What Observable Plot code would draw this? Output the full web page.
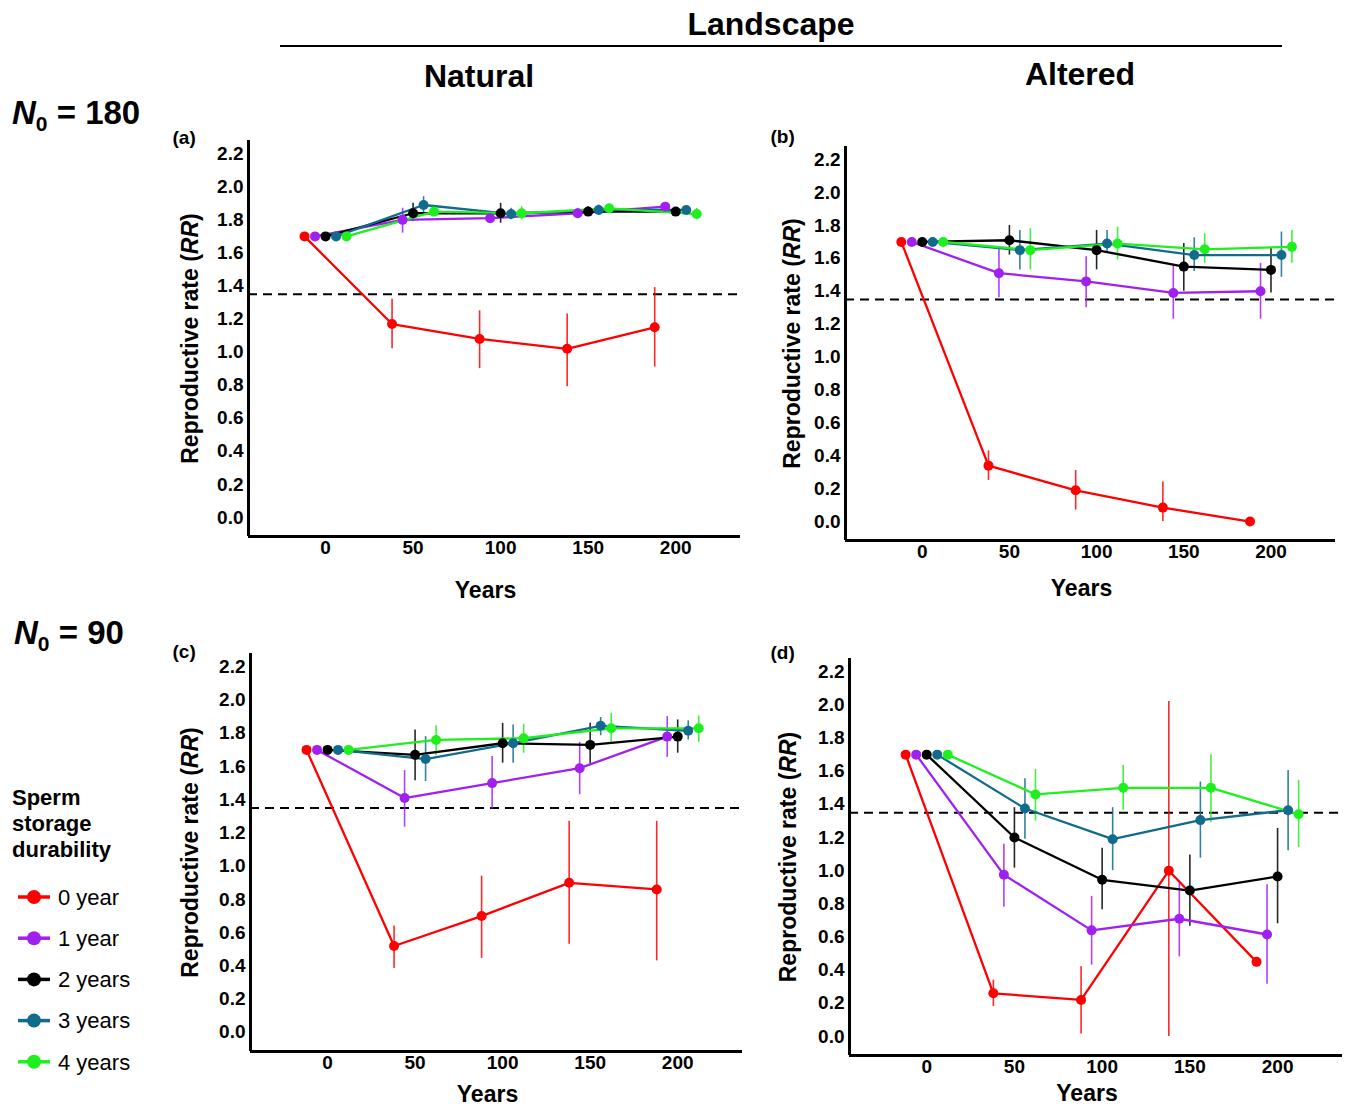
<!DOCTYPE html>
<html><head><meta charset="utf-8">
<script src="https://cdn.jsdelivr.net/npm/d3@7"></script>
<script src="https://cdn.jsdelivr.net/npm/@observablehq/plot@0.6"></script>
<style>
html,body{margin:0;padding:0;background:#fff;overflow:hidden}
#root{position:relative;width:1346px;height:1107px;overflow:hidden;font-family:"Liberation Sans",Arial,sans-serif;color:#000}
.abs{position:absolute;white-space:nowrap}
.ctr{transform:translate(-50%,-50%)}
.hdr{font-weight:bold;font-size:32px;line-height:1}
</style></head><body><div id="root"></div>
<script>
// ---------------- data ----------------
const years = [0, 50, 100, 150, 200];
const durabilities = ["0 year", "1 year", "2 years", "3 years", "4 years"];
const yearTicks = [0, 50, 100, 150, 200];
const rrTicks = [0, 0.2, 0.4, 0.6, 0.8, 1.0, 1.2, 1.4, 1.6, 1.8, 2.0, 2.2];
const threshold = 1.35;
const panelLetters = ["(a)", "(b)", "(c)", "(d)"];
const landscapes = ["Natural", "Altered"];
const startSizes = ["180", "90"];

// (a) N0 = 180, Natural
const meanA = [
  [1.70, 1.17, 1.08, 1.02, 1.15],
  [1.70, 1.80, 1.81, 1.84, 1.88],
  [1.70, 1.84, 1.84, 1.85, 1.85],
  [1.70, 1.89, 1.835, 1.86, 1.86],
  [1.70, 1.85, 1.84, 1.87, 1.835]
];
const lowA = [
  [null, 1.02, 0.90, 0.79, 0.91],
  [null, 1.72, 1.78, 1.81, 1.86],
  [null, 1.79, 1.78, 1.82, 1.84],
  [null, 1.84, 1.80, 1.83, 1.85],
  [null, 1.82, 1.80, 1.85, 1.80]
];
const highA = [
  [null, 1.32, 1.25, 1.23, 1.39],
  [null, 1.87, 1.84, 1.87, 1.90],
  [null, 1.90, 1.90, 1.88, 1.86],
  [null, 1.94, 1.87, 1.89, 1.87],
  [null, 1.88, 1.88, 1.89, 1.87]
];
// (b) N0 = 180, Altered
const meanB = [
  [1.70, 0.34, 0.19, 0.085, 0.0],
  [1.70, 1.51, 1.46, 1.39, 1.40],
  [1.70, 1.71, 1.65, 1.55, 1.53],
  [1.70, 1.65, 1.69, 1.62, 1.62],
  [1.70, 1.65, 1.69, 1.655, 1.67]
];
const lowB = [
  [null, 0.25, 0.07, 0.0, null],
  [null, 1.36, 1.30, 1.23, 1.23],
  [null, 1.62, 1.53, 1.40, 1.39],
  [null, 1.53, 1.64, 1.52, 1.485],
  [null, 1.53, 1.59, 1.57, 1.57]
];
const highB = [
  [null, 0.43, 0.31, 0.24, null],
  [null, 1.66, 1.61, 1.56, 1.57],
  [null, 1.80, 1.77, 1.69, 1.66],
  [null, 1.77, 1.77, 1.725, 1.76],
  [null, 1.78, 1.79, 1.75, 1.77]
];
// (c) N0 = 90, Natural
const meanC = [
  [1.70, 0.52, 0.70, 0.90, 0.86],
  [1.70, 1.41, 1.50, 1.59, 1.78],
  [1.70, 1.67, 1.74, 1.73, 1.78],
  [1.70, 1.645, 1.74, 1.845, 1.815],
  [1.70, 1.76, 1.77, 1.83, 1.83]
];
const lowC = [
  [null, 0.385, 0.445, 0.53, 0.43],
  [null, 1.235, 1.345, 1.43, 1.655],
  [null, 1.515, 1.62, 1.615, 1.68],
  [null, 1.51, 1.62, 1.785, 1.76],
  [null, 1.665, 1.68, 1.74, 1.745]
];
const highC = [
  [null, 0.64, 0.94, 1.27, 1.27],
  [null, 1.575, 1.66, 1.745, 1.90],
  [null, 1.82, 1.86, 1.86, 1.88],
  [null, 1.78, 1.85, 1.895, 1.875],
  [null, 1.845, 1.855, 1.92, 1.905]
];
// (d) N0 = 90, Altered
const meanD = [
  [1.70, 0.26, 0.22, 1.00, 0.45],
  [1.70, 0.975, 0.64, 0.71, 0.615],
  [1.70, 1.20, 0.945, 0.88, 0.965],
  [1.70, 1.375, 1.19, 1.305, 1.365],
  [1.70, 1.46, 1.50, 1.50, 1.34]
];
const lowD = [
  [null, 0.18, 0.015, 0.0, null],
  [null, 0.78, 0.43, 0.48, 0.315],
  [null, 1.015, 0.765, 0.665, 0.68],
  [null, 1.19, 1.00, 1.075, 1.12],
  [null, 1.30, 1.365, 1.29, 1.14]
];
const highD = [
  [null, 0.34, 0.42, 2.02, null],
  [null, 1.16, 0.845, 0.925, 0.915],
  [null, 1.38, 1.135, 1.095, 1.255],
  [null, 1.555, 1.38, 1.535, 1.605],
  [null, 1.61, 1.635, 1.70, 1.545]
];

// ---------------- styles / layout ----------------
const colors = ["#ff0000", "#a020f0", "#000000", "#106b8c", "#1ef01e"];
const dodge = [-12, -6, 0, 6, 12];
const xDomain = [-44, 237];
const yDomain = [-0.115, 2.28];
const FONT = "Liberation Sans, Arial, sans-serif";
const mL = 90, mT = 40, mR = 11, mB = 75;

const layout = [
  {mean: meanA, lo: lowA, hi: highA, left: 248, top: 140, w: 492, h: 396, ydx: -58, yearsDy: 54, lx: -76, ly: -3},
  {mean: meanB, lo: lowB, hi: highB, left: 845, top: 146, w: 490, h: 394, ydx: -53, yearsDy: 48, lx: -75, ly: -10},
  {mean: meanC, lo: lowC, hi: highC, left: 250, top: 653, w: 492, h: 398, ydx: -60, yearsDy: 43, lx: -78, ly: -2},
  {mean: meanD, lo: lowD, hi: highD, left: 849, top: 658, w: 493, h: 397, ydx: -61, yearsDy: 38, lx: -79, ly: -6}
];

const root = document.getElementById("root");
function addDiv(html, left, top, cls, extra) {
  const d = document.createElement("div");
  d.className = "abs " + (cls || "");
  d.style.left = left + "px";
  d.style.top = top + "px";
  if (extra) Object.assign(d.style, extra);
  d.innerHTML = html;
  root.appendChild(d);
  return d;
}

const RRLABEL = "Reproductive rate (RR)";

layout.forEach((p, k) => {
  const rows = [];
  durabilities.forEach((s, i) => {
    years.forEach((yr, j) => {
      rows.push({series: s, i, year: yr, mean: p.mean[i][j], lo: p.lo[i][j], hi: p.hi[i][j]});
    });
  });
  const xpos = d => d.year + dodge[d.i];
  const bars = rows.filter(d => d.lo != null && d.hi != null);
  const svg = Plot.plot({
    width: mL + p.w + mR,
    height: mT + p.h + mB,
    marginLeft: mL, marginTop: mT, marginRight: mR, marginBottom: mB,
    style: {fontFamily: FONT, background: "transparent", overflow: "visible"},
    x: {domain: xDomain},
    y: {domain: yDomain},
    color: {domain: durabilities, range: colors, type: "ordinal"},
    marks: [
      Plot.axisX(yearTicks, {tickSize: 0, tickPadding: 4, fontSize: 19, fontWeight: "bold", label: null, fill: "#000"}),
      Plot.axisY(rrTicks, {tickSize: 0, tickPadding: 5, fontSize: 19, fontWeight: "bold", label: null, fill: "#000", tickFormat: d => d.toFixed(1)}),
      Plot.ruleY([threshold], {stroke: "#000", strokeWidth: 2, strokeDasharray: "9,6"}),
      Plot.ruleX(bars, {x: xpos, y1: "lo", y2: "hi", stroke: "series", strokeWidth: 1.6, strokeOpacity: 0.85}),
      Plot.line(rows, {x: xpos, y: "mean", z: "series", stroke: "series", strokeWidth: 2.3}),
      Plot.dot(rows, {x: xpos, y: "mean", fill: "series", r: 5}),
      Plot.ruleX([xDomain[0]], {stroke: "#000", strokeWidth: 3}),
      Plot.ruleY([yDomain[0]], {stroke: "#000", strokeWidth: 3}),
      Plot.text([RRLABEL], {frameAnchor: "left", dx: p.ydx, rotate: -90, textAnchor: "middle", lineAnchor: "middle", fontSize: 23, fontWeight: "bold", fill: "#000"}),
      Plot.text(["Years"], {frameAnchor: "bottom", dy: p.yearsDy, dx: -9, lineAnchor: "middle", fontSize: 23, fontWeight: "bold", fill: "#000"}),
      Plot.text([panelLetters[k]], {frameAnchor: "top-left", dx: p.lx, dy: p.ly, textAnchor: "start", lineAnchor: "middle", fontSize: 19, fontWeight: "bold", fill: "#000"})
    ]
  });
  svg.querySelectorAll("text").forEach(t => {
    if (t.textContent === RRLABEL) {
      t.innerHTML = 'Reproductive rate (<tspan font-style="italic">RR</tspan>)';
    }
  });
  svg.style.position = "absolute";
  svg.style.left = (p.left - mL) + "px";
  svg.style.top = (p.top - mT) + "px";
  root.appendChild(svg);
});

// headers
addDiv("Landscape", 771, 24, "ctr hdr");
addDiv("", 280, 45, "", {width: "1002px", height: "2px", background: "#000"});
addDiv(landscapes[0], 479, 76, "ctr hdr");
addDiv(landscapes[1], 1080, 74, "ctr hdr");
addDiv('<i>N</i><sub style="font-size:21px;vertical-align:-7px">0</sub> = ' + startSizes[0], 12, 96, "hdr", {fontSize: "33px"});
addDiv('<i>N</i><sub style="font-size:21px;vertical-align:-7px">0</sub> = ' + startSizes[1], 14, 616, "hdr", {fontSize: "33px"});

// legend
addDiv("Sperm<br>storage<br>durability", 12, 785, "", {fontWeight: "bold", fontSize: "22px", lineHeight: "26px"});
const leg = d3.create("svg").attr("width", 170).attr("height", 220)
  .style("position", "absolute").style("left", "0px").style("top", "870px");
durabilities.forEach((s, i) => {
  const cy = 27 + i * 41.2;
  leg.append("line").attr("x1", 18).attr("x2", 50).attr("y1", cy).attr("y2", cy)
    .attr("stroke", colors[i]).attr("stroke-width", 3.5);
  leg.append("circle").attr("cx", 34).attr("cy", cy).attr("r", 7).attr("fill", colors[i]);
  leg.append("text").attr("x", 58).attr("y", cy).attr("dy", "0.35em")
    .attr("font-family", FONT).attr("font-size", 22).attr("fill", "#000").text(s);
});
root.appendChild(leg.node());
</script>
</body></html>
